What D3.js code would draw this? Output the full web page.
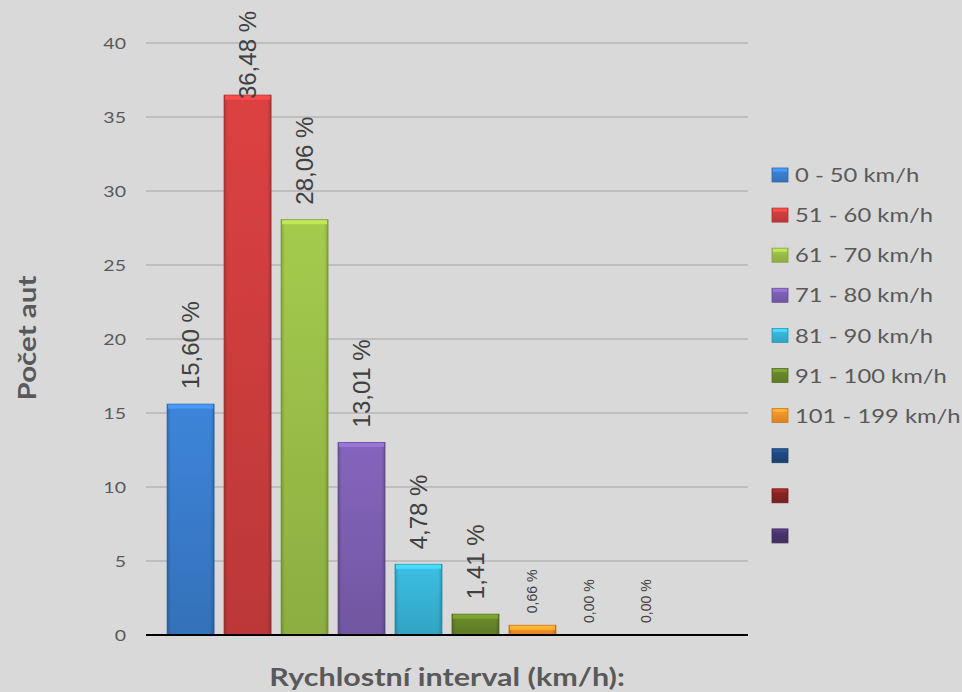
<!DOCTYPE html>
<html>
<head>
<meta charset="utf-8">
<script src="https://cdn.jsdelivr.net/npm/d3@7/dist/d3.min.js"></script>
<style>
  body { margin: 0; background: #d9d9d9; }
  svg { display: block; }
</style>
</head>
<body>
<div id="chart"></div>
<script>
// speed intervals (legend entries, last three are unnamed in the source)
var series = ["0 - 50 km/h", "51 - 60 km/h", "61 - 70 km/h", "71 - 80 km/h",
  "81 - 90 km/h", "91 - 100 km/h", "101 - 199 km/h", "", "", ""];
// number of cars per interval (bars)
var values = [15.60, 36.48, 28.06, 13.01, 4.78, 1.41, 0.66, 0, 0, null];
// data labels shown above bars
var labels = ["15,60 %", "36,48 %", "28,06 %", "13,01 %", "4,78 %",
  "1,41 %", "0,66 %", "0,00 %", "0,00 %", ""];
var yTicks = [0, 5, 10, 15, 20, 25, 30, 35, 40];

var colors = ["#3b80d2", "#d43f3f", "#9fc44a", "#8061b6", "#39b9dc",
  "#6a8a2a", "#f7962a", "#1f4a82", "#8a2424", "#4a346c"];

var W = 962, H = 692;
var plot = {left: 146, right: 748, top: 43, bottom: 635};
var FONT = "Lato, 'Open Sans', sans-serif";
var STRETCH = 1.22; // the source font runs wider than Lato

var svg = d3.select("#chart").append("svg")
  .attr("width", W).attr("height", H);

var defs = svg.append("defs");
colors.forEach(function(c, i) {
  var g = defs.append("linearGradient").attr("id", "grad" + i)
    .attr("x1", 0).attr("y1", 0).attr("x2", 0).attr("y2", 1);
  g.append("stop").attr("offset", "0%").attr("stop-color", d3.color(c).brighter(0.1));
  g.append("stop").attr("offset", "100%").attr("stop-color", d3.color(c).darker(0.35));
  var h = defs.append("linearGradient").attr("id", "side" + i)
    .attr("x1", 0).attr("y1", 0).attr("x2", 1).attr("y2", 0);
  h.append("stop").attr("offset", "0%").attr("stop-color", "#000").attr("stop-opacity", 0.18);
  h.append("stop").attr("offset", "8%").attr("stop-color", "#000").attr("stop-opacity", 0);
  h.append("stop").attr("offset", "92%").attr("stop-color", "#000").attr("stop-opacity", 0);
  h.append("stop").attr("offset", "100%").attr("stop-color", "#000").attr("stop-opacity", 0.18);
});

var y = d3.scaleLinear().domain([0, 40]).range([plot.bottom, plot.top]);
var x = d3.scaleBand().domain(d3.range(series.length))
  .range([plot.left, plot.right])
  .paddingInner(0.175).paddingOuter(0.37);

// gridlines
svg.append("g")
  .selectAll("line").data(yTicks.filter(function(d) { return d > 0; }))
  .enter().append("line")
  .attr("x1", plot.left).attr("x2", plot.right)
  .attr("y1", function(d) { return y(d); }).attr("y2", function(d) { return y(d); })
  .attr("stroke", "#a3a3a3").attr("stroke-width", 1.2);

// y axis labels
var yAxis = svg.append("g")
  .attr("transform", "translate(" + plot.left + ",0)")
  .call(d3.axisLeft(y).tickValues(yTicks).tickSize(0).tickPadding(20));
yAxis.select(".domain").remove();
yAxis.selectAll("text")
  .attr("x", null)
  .attr("transform", "translate(-20,0) scale(" + STRETCH + ",1)")
  .style("font-family", FONT)
  .style("font-size", "16px")
  .attr("fill", "#595959");

// bars
var bars = svg.append("g").selectAll("g.bar")
  .data(values.map(function(v, i) { return {v: v, i: i}; })
    .filter(function(d) { return d.v; }))
  .enter().append("g").attr("class", "bar");

bars.append("rect")
  .attr("x", function(d) { return x(d.i); })
  .attr("y", function(d) { return y(d.v); })
  .attr("width", x.bandwidth())
  .attr("height", function(d) { return y(0) - y(d.v); })
  .attr("fill", function(d) { return "url(#grad" + d.i + ")"; })
  .attr("stroke", function(d) { return d3.color(colors[d.i]).darker(0.6); })
  .attr("stroke-width", 0.8);

bars.append("rect")
  .attr("x", function(d) { return x(d.i); })
  .attr("y", function(d) { return y(d.v); })
  .attr("width", x.bandwidth())
  .attr("height", function(d) { return y(0) - y(d.v); })
  .attr("fill", function(d) { return "url(#side" + d.i + ")"; });

// top bevel
bars.append("rect")
  .attr("x", function(d) { return x(d.i) + 1; })
  .attr("y", function(d) { return y(d.v) + 0.5; })
  .attr("width", x.bandwidth() - 2)
  .attr("height", function(d) { return Math.min(4, y(0) - y(d.v) - 1); })
  .attr("fill", function(d) { return d3.color(colors[d.i]).brighter(0.5); });

// x axis line
svg.append("line")
  .attr("x1", plot.left).attr("x2", plot.right)
  .attr("y1", y(0)).attr("y2", y(0))
  .attr("stroke", "#000").attr("stroke-width", 2);

// data labels, rotated
var lab = svg.append("g").selectAll("text")
  .data(values.map(function(v, i) { return {v: v || 0, i: i, t: labels[i]}; })
    .filter(function(d) { return d.t; }))
  .enter().append("text")
  .style("font-family", "'Liberation Sans', Arial, sans-serif")
  .style("font-size", function(d) { return d.v < 1 ? "14px" : "24px"; })
  .attr("fill", "#404040")
  .attr("dominant-baseline", "central")
  .text(function(d) { return d.t; });

lab.attr("transform", function(d) {
  var len = this.getComputedTextLength();
  var off = d.v < 1 ? 12 : 15;
  // keep label inside the picture, like the source does for the tallest bar
  var start = Math.max(y(d.v) - off, 11 + len);
  var cx = x(d.i) + x.bandwidth() / 2;
  return "translate(" + cx + "," + start + ") rotate(-90)";
});

// axis titles
svg.append("text")
  .attr("transform", "translate(" + ((plot.left + plot.right) / 2) + ",686) scale(1.27,1)")
  .attr("text-anchor", "middle")
  .style("font-family", FONT)
  .style("font-size", "24px").style("font-weight", "bold")
  .attr("fill", "#595959")
  .text("Rychlostní interval (km/h):");

svg.append("text")
  .attr("transform", "translate(27,338) rotate(-90) scale(1.23,1)")
  .attr("text-anchor", "middle").attr("dominant-baseline", "central")
  .style("font-family", FONT)
  .style("font-size", "24px").style("font-weight", "bold")
  .attr("fill", "#595959")
  .text("Počet aut");

// legend
var leg = svg.append("g").selectAll("g")
  .data(series).enter().append("g")
  .attr("transform", function(d, i) { return "translate(772," + (175 + i * 40.1) + ")"; });

leg.append("rect")
  .attr("x", 0).attr("y", -7).attr("width", 16).attr("height", 14)
  .attr("fill", function(d, i) { return "url(#grad" + i + ")"; })
  .attr("stroke", function(d, i) { return d3.color(colors[i]).darker(0.6); })
  .attr("stroke-width", 0.8);
leg.append("rect")
  .attr("x", 1).attr("y", -6.5).attr("width", 14).attr("height", 3)
  .attr("fill", function(d, i) { return d3.color(colors[i]).brighter(0.5); });

leg.append("text")
  .attr("transform", "translate(23,0) scale(" + STRETCH + ",1)")
  .attr("dominant-baseline", "central")
  .style("font-family", FONT)
  .style("font-size", "19.5px")
  .attr("fill", "#595959")
  .text(function(d) { return d; });
</script>
</body>
</html>
